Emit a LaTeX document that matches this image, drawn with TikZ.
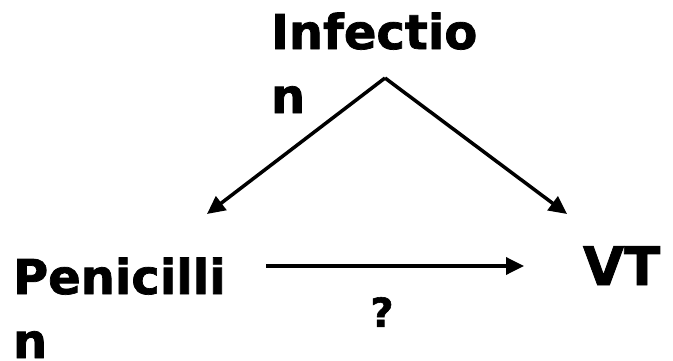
\documentclass[tikz,border=0pt]{standalone}
\usepackage{fontspec}
\setmainfont[BoldFeatures={FakeBold=1.5}]{DejaVu Sans}
\usetikzlibrary{arrows.meta}
\tikzset{
  lbl/.style={inner sep=0pt, outer sep=0pt, align=left, font=\fontsize{48}{64}\selectfont\bfseries},
  vtlbl/.style={inner sep=0pt, outer sep=0pt, font=\fontsize{53}{64}\selectfont\bfseries},
  qlbl/.style={inner sep=0pt, font=\fontsize{40}{40}\selectfont\bfseries},
  arr/.style={line width=3.5pt, -{Triangle[length=18pt,width=17pt]}},
}
\begin{document}
\begin{tikzpicture}[x=1pt,y=1pt]
\useasboundingbox (0,0) rectangle (673,360);
\node[lbl, anchor=base west] (inf) at (271,247) {Infectio\\n};
\node[lbl, anchor=base west] (pen) at (13,2) {Penicilli\\n};
\node[vtlbl, anchor=base west] (vt) at (583,75) {VT};
\node[qlbl] (q) at (382,48) {?};
\coordinate (apex) at (385,282);
\coordinate (lt) at (207,146);
\coordinate (rt) at (567,146);
\coordinate (hs) at (266,94);
\coordinate (he) at (524,94);
\draw[arr] (apex) -- (lt);
\draw[arr] (apex) -- (rt);
\draw[arr] (hs) -- (he);
\end{tikzpicture}
\end{document}
